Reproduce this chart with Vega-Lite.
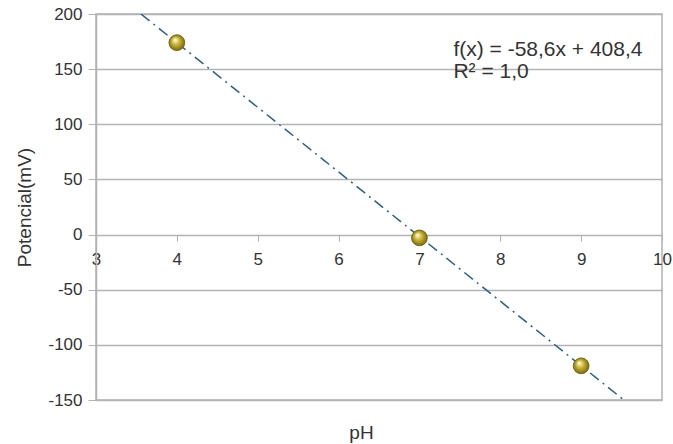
{
  "$schema": "https://vega.github.io/schema/vega-lite/v6.json",
  "width": 566,
  "height": 386,
  "autosize": {"type": "none"},
  "padding": {"left": 96, "top": 14, "right": 11, "bottom": 44},
  "background": "white",
  "config": {
    "font": "Liberation Sans",
    "view": {"stroke": "#b3b3b3", "strokeWidth": 1.5},
    "axis": {"labelFont": "Liberation Sans", "titleFont": "Liberation Sans", "labelColor": "#333333", "titleColor": "#333333", "labelFontSize": 17, "titleFontSize": 19, "titleFontWeight": "normal", "gridColor": "#b3b3b3", "domainColor": "#b3b3b3", "tickColor": "#b3b3b3", "gridWidth": 1.5, "domainWidth": 1.5}
  },
  "datasets": {
    "pts": [{"pH": 4, "mV": 174}, {"pH": 7, "mV": -3}, {"pH": 9, "mV": -119}],
    "trend": [{"pH": 3.556, "mV": 200}, {"pH": 9.529, "mV": -150}],
    "eq": [{"pH": 7.42, "mV": 167, "t": "f(x) = -58,6x + 408,4"}, {"pH": 7.42, "mV": 147, "t": "R² = 1,0"}]
  },
  "layer": [
    {
      "data": {"name": "trend"},
      "mark": {"type": "line", "color": "#2b5f8a", "strokeWidth": 1.5, "strokeDash": [11, 5, 2, 5], "clip": true},
      "encoding": {
        "x": {"field": "pH", "type": "quantitative", "scale": {"domain": [3, 10], "nice": false, "zero": false},
          "axis": {"title": "pH", "values": [3, 4, 5, 6, 7, 8, 9, 10], "labelExpr": "toString(datum.value)", "offset": -165, "domain": false, "grid": false, "tickSize": 6, "labelPadding": 10, "titleX": 265, "titleAlign": "center", "titleY": 203, "titleBaseline": "alphabetic", "labelFlush": false}},
        "y": {"field": "mV", "type": "quantitative", "scale": {"domain": [-150, 200], "nice": false, "zero": false},
          "axis": {"title": "Potencial(mV)", "values": [-150, -100, -50, 0, 50, 100, 150, 200], "labelExpr": "toString(datum.value)", "tickSize": 8, "labelPadding": 6, "titlePadding": 13}}
      }
    },
    {
      "data": {"name": "pts"},
      "mark": {"type": "point", "filled": true, "size": 250, "opacity": 1, "stroke": "#6b5d08", "strokeWidth": 0.8,
        "fill": {"gradient": "radial", "x1": 0.38, "y1": 0.32, "r1": 0.04, "x2": 0.5, "y2": 0.5, "r2": 0.55,
          "stops": [{"offset": 0, "color": "#fcf8d0"}, {"offset": 0.4, "color": "#c9b536"}, {"offset": 1, "color": "#6f600a"}]}},
      "encoding": {
        "x": {"field": "pH", "type": "quantitative"},
        "y": {"field": "mV", "type": "quantitative"}
      }
    },
    {
      "data": {"name": "eq"},
      "mark": {"type": "text", "align": "left", "baseline": "middle", "fontSize": 21, "color": "#333333", "font": "Liberation Sans"},
      "encoding": {
        "x": {"field": "pH", "type": "quantitative"},
        "y": {"field": "mV", "type": "quantitative"},
        "text": {"field": "t"}
      }
    }
  ]
}
